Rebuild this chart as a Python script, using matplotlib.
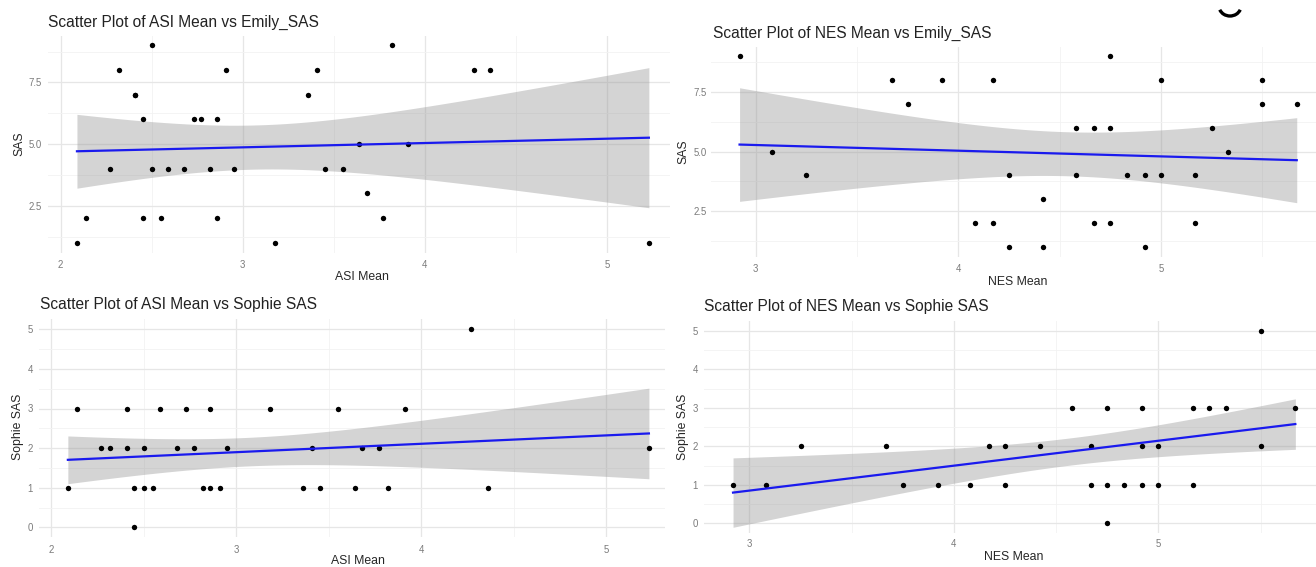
import numpy as np
import matplotlib
matplotlib.use("Agg")
import matplotlib.pyplot as plt
from matplotlib.patches import Arc

plt.rcParams['font.family'] = ['Liberation Sans', 'DejaVu Sans']

# ---------------- data ----------------
asi_mean = [2.09, 2.14, 2.27, 2.32, 2.41, 2.41, 2.45, 2.45, 2.50, 2.50, 2.55,
            2.59, 2.68, 2.73, 2.77, 2.82, 2.86, 2.86, 2.91, 2.95, 3.18, 3.36,
            3.41, 3.45, 3.55, 3.64, 3.68, 3.77, 3.82, 3.91, 4.27, 4.36, 5.23]
emily_sas_asi = [1, 2, 4, 8, 7, 7, 6, 2, 9, 4, 2,
                 4, 4, 6, 6, 4, 6, 2, 8, 4, 1, 7,
                 8, 4, 4, 5, 3, 2, 9, 5, 8, 8, 1]
sophie_sas_asi = [1, 3, 2, 2, 3, 2, 1, 0, 2, 1, 1,
                  3, 2, 3, 2, 1, 3, 1, 1, 2, 3, 1,
                  2, 1, 3, 1, 2, 2, 1, 3, 5, 1, 2]

nes_mean_emily = [2.92, 3.08, 3.25, 3.67, 3.75, 3.92, 4.08, 4.17, 4.17, 4.25, 4.25,
                  4.42, 4.42, 4.58, 4.58, 4.67, 4.67, 4.75, 4.75, 4.75, 4.83, 4.92,
                  4.92, 5.00, 5.00, 5.17, 5.17, 5.25, 5.33, 5.50, 5.50, 5.67]
emily_sas_nes = [9, 5, 4, 8, 7, 8, 2, 8, 2, 4, 1,
                 3, 1, 6, 4, 6, 2, 9, 6, 2, 4, 4,
                 1, 8, 4, 4, 2, 6, 5, 8, 7, 7]

nes_mean_sophie = [2.92, 3.08, 3.25, 3.67, 3.75, 3.92, 4.08, 4.17, 4.25, 4.25,
                   4.42, 4.58, 4.67, 4.67, 4.75, 4.75, 4.75, 4.83, 4.92, 4.92,
                   4.92, 5.00, 5.00, 5.17, 5.17, 5.25, 5.33, 5.50, 5.50, 5.67]
sophie_sas_nes = [1, 1, 2, 2, 1, 1, 1, 2, 2, 1,
                  2, 3, 2, 1, 3, 1, 0, 1, 3, 2,
                  1, 2, 1, 3, 1, 3, 3, 5, 2, 3]

titles = ["Scatter Plot of ASI Mean vs Emily_SAS",
          "Scatter Plot of NES Mean vs Emily_SAS",
          "Scatter Plot of ASI Mean vs Sophie SAS",
          "Scatter Plot of NES Mean vs Sophie SAS"]
xlabels = ["ASI Mean", "NES Mean", "ASI Mean", "NES Mean"]
ylabels = ["SAS", "SAS", "Sophie SAS", "Sophie SAS"]

T_CRIT = 2.04  # 97.5% t quantile, df ~ 30

W, H = 1316, 567
fig = plt.figure(figsize=(W / 100, H / 100), dpi=100)
fig.patch.set_facecolor("white")


def px_box(l, t, r, b):
    return [l / W, 1 - b / H, (r - l) / W, (b - t) / H]


def ftext(x, y, s, **kw):
    fig.text(x / W, 1 - y / H, s, **kw)


# layout of each screenshot panel (pixels): box, xlim, ylim, tick pads
panels = [
    dict(box=(48, 35.6, 670, 252.6), xlim=(1.931, 5.346), ylim=(0.6, 9.4),
         title=(48, 22), xl=(362, 277), yl=(19, 144), xpad=5.0, ypad=4.5),
    dict(box=(711, 46.5, 1316, 256.6), xlim=(2.779, 5.765), ylim=(0.6, 9.4),
         title=(713, 33), xl=(1018, 282), yl=(683, 152), xpad=5.5, ypad=3.0),
    dict(box=(39, 319.4, 665, 537.2), xlim=(1.934, 5.317), ylim=(-0.25, 5.25),
         title=(40, 305), xl=(358, 561), yl=(18, 427), xpad=5.5, ypad=4.5),
    dict(box=(704, 321.3, 1316, 532.9), xlim=(2.778, 5.771), ylim=(-0.25, 5.25),
         title=(704, 307), xl=(1014, 557), yl=(683, 427), xpad=4.5, ypad=4.5),
]

datasets = [(asi_mean, emily_sas_asi), (nes_mean_emily, emily_sas_nes),
            (asi_mean, sophie_sas_asi), (nes_mean_sophie, sophie_sas_nes)]

for i, (p, (xs, ys)) in enumerate(zip(panels, datasets)):
    ax = fig.add_axes(px_box(*p["box"]))
    ax.set_facecolor("white")
    for s in ax.spines.values():
        s.set_visible(False)
    ax.set_xlim(*p["xlim"])
    ax.set_ylim(*p["ylim"])
    ax.set_xticks([2, 3, 4, 5] if i in (0, 2) else [3, 4, 5])
    ax.set_xticks([2.5, 3.5, 4.5] if i in (0, 2) else [3.5, 4.5, 5.5], minor=True)
    if i < 2:
        ax.set_yticks([2.5, 5.0, 7.5])
        ax.set_yticklabels(["2.5", "5.0", "7.5"])
        ax.set_yticks([1.25, 3.75, 6.25, 8.75], minor=True)
    else:
        ax.set_yticks([0, 1, 2, 3, 4, 5])
        ax.set_yticks([0.5, 1.5, 2.5, 3.5, 4.5], minor=True)
    ax.grid(True, which="major", color="#e6e6e6", lw=0.9, zorder=0)
    ax.grid(True, which="minor", color="#f2f2f2", lw=0.6, zorder=0)
    ax.tick_params(which="both", length=0, labelsize=6.9, labelcolor="#7a7a7a")
    ax.tick_params(axis="x", pad=p["xpad"])
    ax.tick_params(axis="y", pad=p["ypad"])
    ax.set_axisbelow(True)

    x = np.asarray(xs, float)
    y = np.asarray(ys, float)
    n = len(x)
    slope, intercept = np.polyfit(x, y, 1)
    xg = np.linspace(x.min(), x.max(), 80)
    yhat = intercept + slope * xg
    resid = y - (intercept + slope * x)
    s_err = np.sqrt(np.sum(resid ** 2) / (n - 2))
    sxx = np.sum((x - x.mean()) ** 2)
    se = s_err * np.sqrt(1 / n + (xg - x.mean()) ** 2 / sxx)
    ax.fill_between(xg, yhat - T_CRIT * se, yhat + T_CRIT * se,
                    color="#999999", alpha=0.42, lw=0, zorder=2)
    ax.plot(xg, yhat, color="#1a1aee", lw=1.6, zorder=4)
    ax.scatter(x, y, s=15, color="black", lw=0, zorder=3)

    ftext(p["title"][0], p["title"][1], titles[i], fontsize=11.2,
          color="#222222", ha="left", va="center")
    ftext(p["xl"][0], p["xl"][1], xlabels[i], fontsize=8.8,
          color="#262626", ha="center", va="center")
    ftext(p["yl"][0], p["yl"][1], ylabels[i], fontsize=8.8,
          color="#262626", ha="center", va="center", rotation=90)

# small partial icon visible at the top-right edge of the screenshot
overlay = fig.add_axes([0, 0, 1, 1], facecolor="none")
overlay.set_xlim(0, W)
overlay.set_ylim(H, 0)
overlay.axis("off")
overlay.add_patch(Arc((1230, 6), 22, 20, theta1=20, theta2=160,
                      color="black", lw=2.4))

fig.savefig("out.png", dpi=100, facecolor="white")
